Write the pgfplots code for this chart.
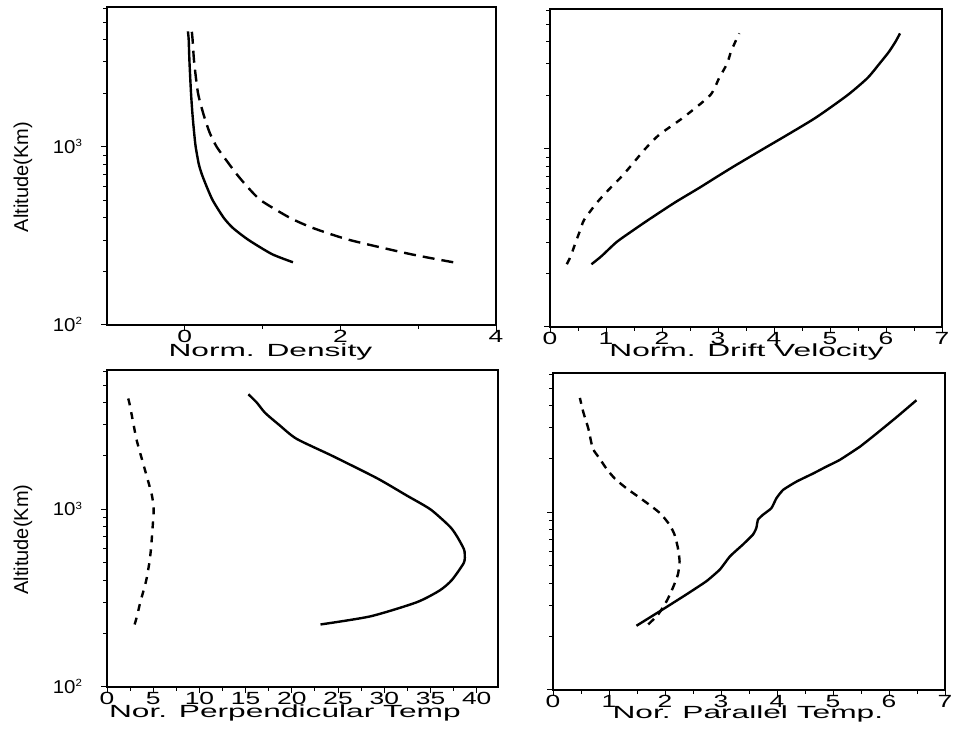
\documentclass[border=0pt]{standalone}
\usepackage{fontspec}
\setmainfont{Liberation Sans}
\usepackage{pgfplots}
\pgfplotsset{compat=1.18}
\newcommand{\sxx}[1]{\scalebox{1.5}[1]{#1}}
\newcommand{\ylab}[1]{\scalebox{1.1}[1]{10\raisebox{3.3pt}{\fontsize{5.2}{6}\selectfont #1}}}
\newcommand{\xlab}[1]{\scalebox{1.8}[1]{#1}}
\pgfplotsset{
  mypanel/.style={
    scale only axis,
    ymin=100, ymax=6100,
    axis line style={line width=0.6pt},
    tick align=outside, tick pos=left,
    major tick length=3pt, minor tick length=1.8pt,
    every tick/.style={black, line width=0.5pt},
    ytick={100,1000},
    minor ytick={200,300,400,500,600,700,800,900,2000,3000,4000,5000,6000},
    yticklabels={},
    xticklabel style={font=\fontsize{8.8}{10}\selectfont, inner sep=1pt, yshift=1.5pt},
    yticklabel style={font=\fontsize{9.3}{11}\selectfont, anchor=base east, yshift=-3.2pt, xshift=-6pt},
    x label style={font=\fontsize{8.8}{10}\selectfont},
    y label style={font=\fontsize{10}{12}\selectfont, at={(rel axis cs:0,0.465)}, anchor=center, yshift=42pt},
  },
  solidline/.style={black, line width=1.2pt, line join=round, smooth, tension=0.4},
  dashline/.style={black, line width=1.2pt, smooth, tension=0.4},
}
\begin{document}
\begin{tikzpicture}
\path[use as bounding box] (0pt,0pt) rectangle (478pt,369pt);
% Top-left: Norm. Density
\begin{axis}[ymode=log, mypanel, at={(53.5pt,206.5pt)}, anchor=south west, width=194.5pt, height=159pt,
  xmin=-1, xmax=4, xtick={0,2,4}, xticklabels={\sxx{0},\sxx{2},\sxx{4}}, minor xtick={1,3},
  yticklabels={\ylab{2},\ylab{3}},
  ylabel={Altitude(Km)},
  xlabel={\xlab{Norm. Density}},
  x label style={at={(rel axis cs:0.42,0)},anchor=base,yshift=-16pt}]
\addplot[solidline] coordinates {
(1.39,225) (1.12,250) (0.82,300) (0.62,350) (0.50,400) (0.36,500) (0.28,600) (0.22,700)
(0.18,800) (0.14,1000) (0.12,1200) (0.10,1500) (0.08,2000) (0.06,3000) (0.05,4000) (0.04,4450)};
\addplot[dashline, dash pattern=on 6pt off 3.5pt] coordinates {
(3.45,225) (2.90,250) (2.12,300) (1.65,350) (1.35,400) (0.98,500) (0.80,600) (0.67,700)
(0.57,800) (0.41,1000) (0.32,1200) (0.245,1500) (0.17,2000) (0.12,3000) (0.10,4000) (0.09,4450)};
\end{axis}
% Top-right: Norm. Drift Velocity
\begin{axis}[ymode=log, mypanel, at={(275pt,205.5pt)}, anchor=south west, width=196pt, height=159pt,
  xmin=0, xmax=7, xtick={0,1,2,3,4,5,6,7},
  xticklabels={\sxx{0},\sxx{1},\sxx{2},\sxx{3},\sxx{4},\sxx{5},\sxx{6},\sxx{7}},
  minor xtick={0.5,1.5,2.5,3.5,4.5,5.5,6.5},
  xlabel={\xlab{Norm. Drift Velocity}},
  x label style={at={(rel axis cs:0.501,0)},anchor=base,yshift=-15pt}]
\addplot[solidline] coordinates {
(0.74,225) (0.92,250) (1.19,300) (1.49,350) (1.76,400) (2.23,500) (2.65,600) (2.99,700)
(3.29,800) (3.81,1000) (4.24,1200) (4.75,1500) (5.31,2000) (5.67,2500) (5.88,3000)
(6.05,3500) (6.17,4000) (6.25,4450)};
\addplot[dashline, dash pattern=on 3.5pt off 3.5pt] coordinates {
(0.30,225) (0.37,250) (0.46,300) (0.54,350) (0.61,400) (0.84,500) (1.07,600) (1.28,700)
(1.44,800) (1.70,1000) (1.95,1200) (2.38,1500) (2.86,2000) (3.02,2500) (3.16,3000)
(3.23,3500) (3.31,4000) (3.38,4450)};
\end{axis}
% Bottom-left: Nor. Perpendicular Temp
\begin{axis}[ymode=log, mypanel, at={(53.5pt,25.5pt)}, anchor=south west, width=195.5pt, height=158.5pt,
  xmin=0, xmax=42.3, xtick={0,5,10,15,20,25,30,35,40},
  xticklabels={\sxx{0},\sxx{5},\sxx{10},\sxx{15},\sxx{20},\sxx{25},\sxx{30},\sxx{35},\sxx{40}},
  minor xtick={2.5,7.5,12.5,17.5,22.5,27.5,32.5,37.5},
  yticklabels={\ylab{2},\ylab{3}},
  ylabel={Altitude(Km)},
  xlabel={\xlab{Nor. Perpendicular Temp}},
  x label style={at={(rel axis cs:0.455,0)},anchor=base,yshift=-15.5pt}]
\addplot[solidline] coordinates {
(23.1,225) (28.5,250) (33.5,300) (36.0,350) (37.3,400) (38.6,500) (38.7,560) (38.6,600)
(37.9,700) (37.1,800) (35.0,1000) (32.4,1200) (29.2,1500) (24.4,2000) (20.5,2500)
(18.6,3000) (17.1,3500) (16.2,4000) (15.3,4450)};
\addplot[dashline, dash pattern=on 3.5pt off 3.5pt] coordinates {
(2.99,225) (3.24,250) (3.60,300) (3.96,350) (4.25,400) (4.58,500) (4.76,600) (4.86,700)
(4.94,800) (5.05,1000) (4.86,1200) (4.36,1500) (3.68,2000) (3.17,2500) (2.88,3000)
(2.63,3500) (2.41,4000) (2.16,4450)};
\end{axis}
% Bottom-right: Nor. Parallel Temp.
\begin{axis}[ymode=log, mypanel, at={(276.5pt,24pt)}, anchor=south west, width=196pt, height=158.5pt,
  xmin=0, xmax=7, xtick={0,1,2,3,4,5,6,7},
  xticklabels={\sxx{0},\sxx{1},\sxx{2},\sxx{3},\sxx{4},\sxx{5},\sxx{6},\sxx{7}},
  minor xtick={0.5,1.5,2.5,3.5,4.5,5.5,6.5},
  xlabel={\xlab{Nor. Parallel Temp.}},
  x label style={at={(rel axis cs:0.497,0)},anchor=base,yshift=-14pt}]
\addplot[solidline, tension=0.25] coordinates {
(1.49,230) (1.91,278) (2.38,345) (2.74,410) (2.98,477) (3.16,566) (3.39,659) (3.57,750)
(3.63,816) (3.66,910) (3.75,971) (3.90,1057) (3.99,1203) (4.11,1341) (4.35,1493)
(4.65,1660) (4.88,1811) (5.12,1976) (5.48,2345) (5.78,2786) (6.14,3451) (6.49,4285)};
\addplot[dashline, dash pattern=on 4pt off 3pt] coordinates {
(1.70,234) (1.88,267) (2.03,317) (2.14,376) (2.23,447) (2.26,531) (2.23,631) (2.17,750)
(2.08,853) (1.91,991) (1.64,1153) (1.31,1369) (1.10,1556) (0.95,1772) (0.83,2018)
(0.71,2297) (0.63,2972) (0.54,3680) (0.48,4415)};
\end{axis}
\end{tikzpicture}
\end{document}
